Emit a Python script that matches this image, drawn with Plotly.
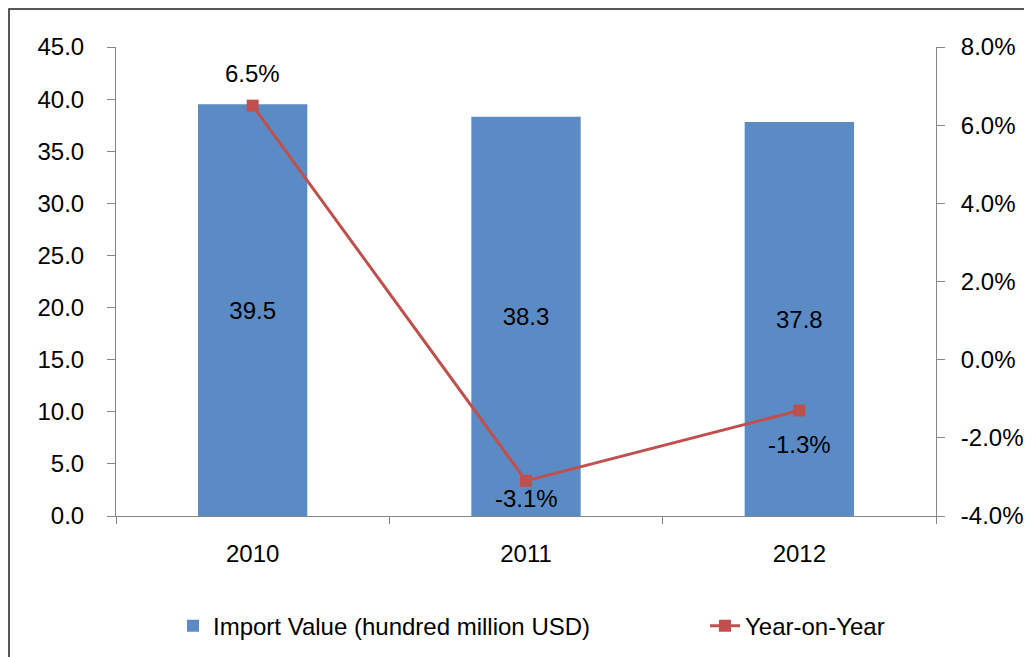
import plotly.graph_objects as go

years = ["2010", "2011", "2012"]
import_value = [39.5, 38.3, 37.8]
yoy = [6.5, -3.1, -1.3]
yoy_labels = ["6.5%", "-3.1%", "-1.3%"]
yoy_label_shift = [32, -18, -34]
left_ticks = [0, 5, 10, 15, 20, 25, 30, 35, 40, 45]
left_ticktext = ["0.0", "5.0", "10.0", "15.0", "20.0", "25.0", "30.0", "35.0", "40.0", "45.0"]
right_ticks = [-4, -2, 0, 2, 4, 6, 8]
right_ticktext = ["-4.0%", "-2.0%", "0.0%", "2.0%", "4.0%", "6.0%", "8.0%"]

FONT = "Liberation Sans, Arial, sans-serif"
FS = 24
AX = "#868686"

# page body has an 8px margin; figure is sized to fill the rest of the window
W, H = 1024, 649
L, T, R, B = 108, 39, 96, 141
PW = W - L - R
PH = H - T - B

fig = go.Figure()
fig.add_trace(go.Bar(
    x=years, y=import_value, name="Import Value (hundred million USD)",
    marker=dict(color="#5B8BC5", line=dict(width=0)),
    text=[f"{v:.1f}" for v in import_value], textposition="inside",
    insidetextanchor="middle", textfont=dict(size=FS, color="black", family=FONT),
    yaxis="y", width=0.4, legend="legend",
))
fig.add_trace(go.Scatter(
    x=years, y=yoy, name="Year-on-Year", mode="lines+markers",
    line=dict(color="#C0504D", width=3),
    marker=dict(symbol="square", size=12, color="#C0504D"),
    yaxis="y2", legend="legend2",
))
# category index positions for annotations (numeric-looking names would be read as indices)
for i, (y, t, s) in enumerate(zip(yoy, yoy_labels, yoy_label_shift)):
    fig.add_annotation(x=i, y=y, xref="x", yref="y2", text=t, showarrow=False, yshift=s,
                       font=dict(size=FS, color="black", family=FONT))

fig.add_shape(type="rect", xref="paper", yref="paper",
              x0=(1 - L) / PW, x1=1.3, y0=-0.6, y1=(PH + T - 1) / PH,
              line=dict(color="#222", width=1.5), fillcolor="rgba(0,0,0,0)")

leg_common = dict(orientation="h", y=-0.235, yanchor="middle", xanchor="left",
                  font=dict(size=FS), bgcolor="rgba(0,0,0,0)")
fig.update_layout(
    width=W, height=H,
    margin=dict(l=L, r=R, t=T, b=B, autoexpand=False),
    paper_bgcolor="white", plot_bgcolor="white",
    font=dict(family=FONT, size=FS, color="black"),
    showlegend=True,
    legend=dict(x=(165 - L) / PW, **leg_common),
    legend2=dict(x=(697 - L) / PW, **leg_common),
    xaxis=dict(type="category", range=[-0.5, len(years) - 0.5],
               showline=True, linecolor=AX, linewidth=1, ticks="outside",
               tickson="boundaries", ticklen=7, tickcolor=AX,
               tickfont=dict(size=FS), showgrid=False, ticklabelstandoff=16),
    yaxis=dict(range=[0, 45], tickvals=left_ticks, ticktext=left_ticktext,
               showline=True, linecolor=AX, ticks="outside", ticklen=8, tickcolor=AX,
               showgrid=False, zeroline=False, tickfont=dict(size=FS), ticklabelstandoff=18),
    yaxis2=dict(range=[-4, 8], tickvals=right_ticks, ticktext=right_ticktext,
                overlaying="y", side="right",
                showline=True, linecolor=AX, ticks="outside", ticklen=8, tickcolor=AX,
                showgrid=False, zeroline=False, tickfont=dict(size=FS), ticklabelstandoff=11),
)

fig.write_html("out.html")
